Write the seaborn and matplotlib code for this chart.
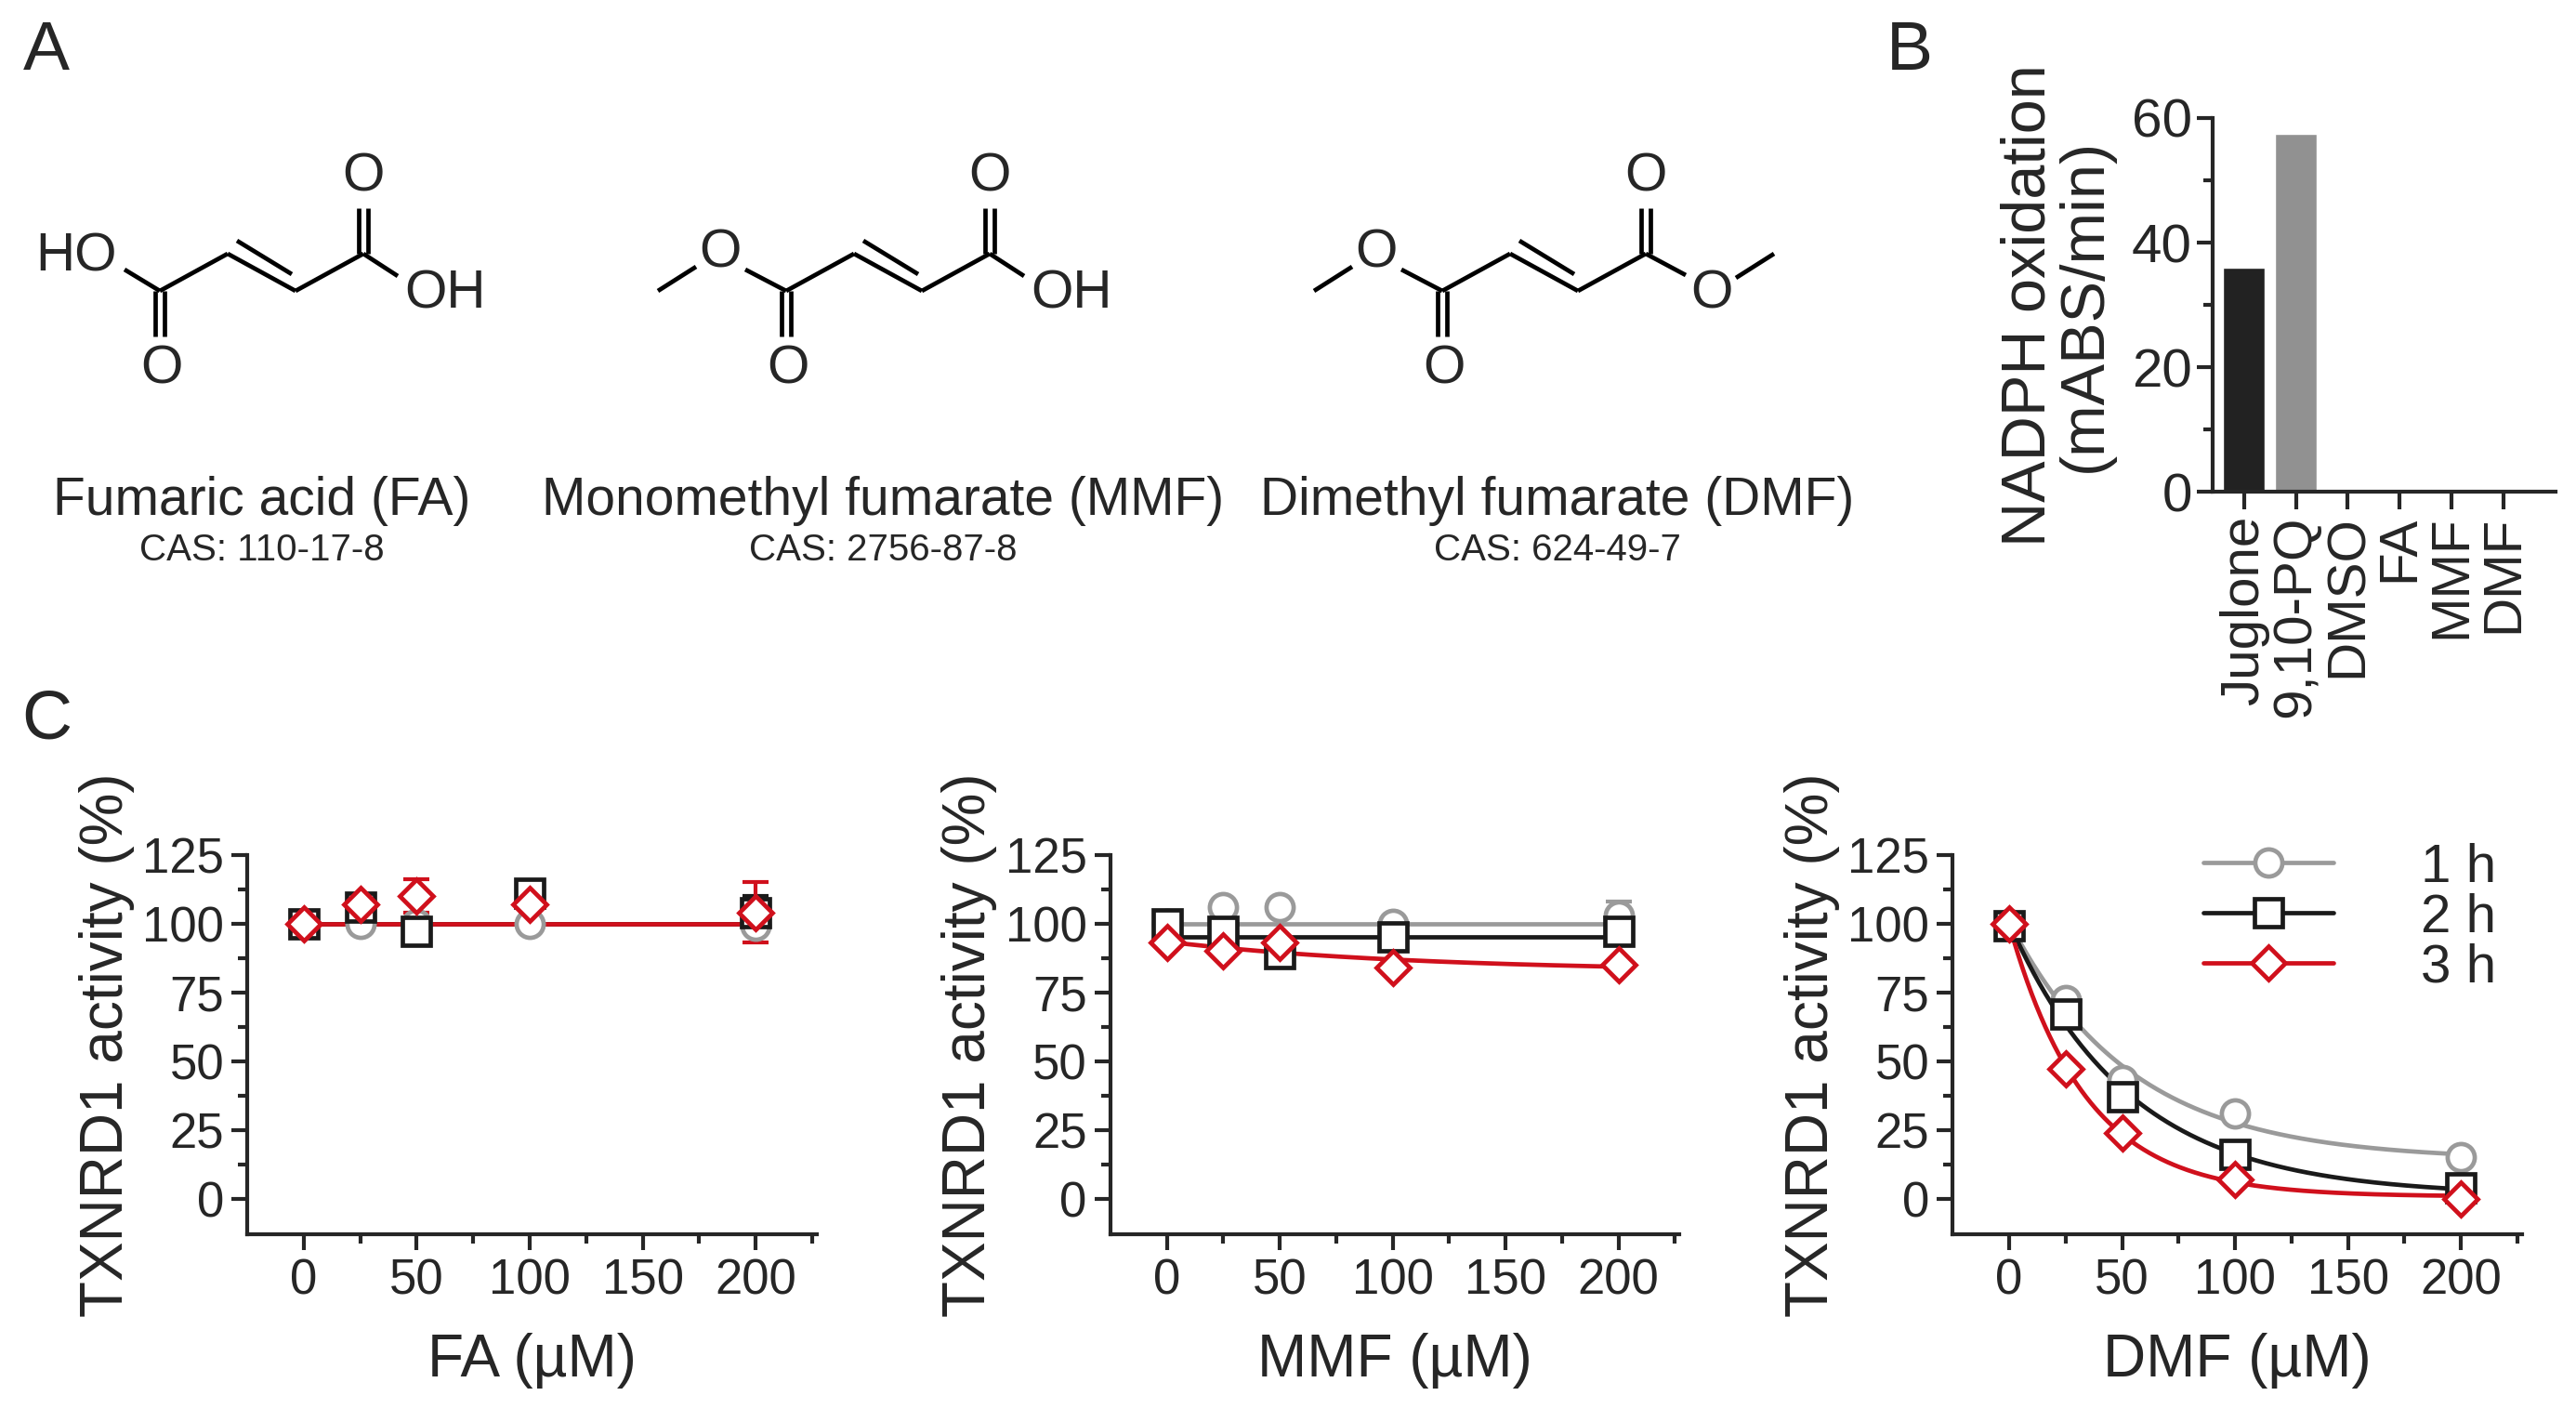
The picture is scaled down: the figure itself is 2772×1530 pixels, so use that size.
import numpy as np
import pandas as pd
import matplotlib
matplotlib.use("Agg")
import matplotlib.pyplot as plt
import seaborn as sns
from matplotlib.lines import Line2D

sns.set_theme(style="ticks")
plt.rcParams['font.family'] = ['Liberation Sans', 'DejaVu Sans']

# ---------------- data ----------------
conc = [0, 25, 50, 100, 200]
times = ["1 h", "2 h", "3 h"]

fa_1h = [100, 100, 100, 100, 99]
fa_2h = [100, 106, 97, 111, 104]
fa_3h = [100, 107, 110, 107, 104]
fa_3h_err = [1, 2, 6, 6, 11]
fa_2h_err = [1, 2, 4, 3, 6]

mmf_1h = [100, 106, 106, 100, 103]
mmf_1h_err = [1, 1, 1, 1, 5]
mmf_2h = [100, 97, 89, 95, 97]
mmf_3h = [93, 90, 93, 84, 85]
mmf_flat_levels = [100, 95]

dmf_1h = [100, 72, 43, 31, 15]
dmf_2h = [99, 67, 37, 16, 4]
dmf_3h = [100, 47, 24, 7, 0]

bar_labels = ["Juglone", "9,10-PQ", "DMSO", "FA", "MMF", "DMF"]
bar_values = [36, 57.5, 0.5, 0.5, 0.5, 0.2]

colors = {"1 h": "#9a9a9a", "2 h": "#1a1a1a", "3 h": "#d0101c"}
markers = {"1 h": "o", "2 h": "s", "3 h": "D"}

def decay_fit(x, y):
    x = np.asarray(x, float); y = np.asarray(y, float)
    best = None
    for k in np.linspace(0.001, 0.2, 2000):
        A = np.vstack([np.exp(-k * x), 1 - np.exp(-k * x)]).T
        coef, *_ = np.linalg.lstsq(A, y, rcond=None)
        r = np.sum((A @ coef - y) ** 2)
        if best is None or r < best[0]:
            best = (r, k, coef)
    _, k, (top, plat) = best
    xs = np.linspace(0, 200, 300)
    return xs, top * np.exp(-k * xs) + plat * (1 - np.exp(-k * xs))

W, H = 2772, 1530
fig = plt.figure(figsize=(W / 100, H / 100), dpi=100)

# ---------------- panel A: structures ----------------
ax0 = fig.add_axes([0, 0, 1, 1], zorder=-1)
ax0.set_xlim(0, W); ax0.set_ylim(H, 0); ax0.axis("off")
lw = 3.4
fs_atom = 42

def line(p, q):
    ax0.plot([p[0], q[0]], [p[1], q[1]], color="black", lw=lw, solid_capstyle="butt")

def atom(x, y, s):
    ax0.text(x, y, s, fontsize=fs_atom, ha="center", va="center")

def molecule(x0, left, right):
    c1 = (x0, 313); c2 = (x0 + 73, 273); c3 = (x0 + 146, 313); c4 = (x0 + 219, 273)
    line(c1, c2); line(c2, c3); line(c3, c4)
    line((c2[0] + 10, c2[1] - 14), (c3[0] - 4, c3[1] - 18))
    for dx in (-5, 5):
        line((c1[0] + dx, c1[1]), (c1[0] + dx, 362))
        line((c4[0] + dx, c4[1]), (c4[0] + dx, 224))
    atom(c1[0] + 2, 397, "O"); atom(c4[0], 190, "O")
    if left == "OH":
        line(c1, (x0 - 38, 290)); atom(x0 - 90, 276, "HO")
    else:
        line(c1, (x0 - 44, 290)); atom(x0 - 71, 272, "O")
        line((x0 - 97, 287), (x0 - 138, 313))
    if right == "OH":
        line(c4, (x0 + 256, 297)); atom(x0 + 307, 316, "OH")
    else:
        line(c4, (x0 + 262, 296)); atom(x0 + 290, 316, "O")
        line((x0 + 316, 299), (x0 + 357, 273))

molecule(172, "OH", "OH")
molecule(846, "Me", "OH")
molecule(1552, "Me", "Me")

names = [("Fumaric acid (FA)", "CAS: 110-17-8", 282),
         ("Monomethyl fumarate (MMF)", "CAS: 2756-87-8", 950),
         ("Dimethyl fumarate (DMF)", "CAS: 624-49-7", 1676)]
for n, cas, x in names:
    ax0.text(x, 539, n, fontsize=41, ha="center", va="center")
    ax0.text(x, 592, cas, fontsize=29, ha="center", va="center")

for lab, x, y in [("A", 50, 55), ("B", 2055, 55), ("C", 50, 775)]:
    ax0.text(x, y, lab, fontsize=54, ha="center", va="center")

# ---------------- panel B: bars ----------------
axb = fig.add_axes([0.859, 0.654, 0.133, 0.263])
dfb = pd.DataFrame({"cond": bar_labels, "val": bar_values})
sns.barplot(data=dfb, x="cond", y="val", ax=axb,
            palette=["#222222", "#919191", "#dddddd", "#dddddd", "#dddddd", "#dddddd"],
            width=0.8, saturation=1, hue="cond", legend=False)
axb.set_ylim(0, 60)
axb.set_xlim(-0.6, 6.0)
axb.set_yticks([0, 20, 40, 60])
axb.set_yticks([10, 30, 50], minor=True)
axb.tick_params(axis="y", labelsize=42, width=3, length=12, direction="out", pad=4)
axb.tick_params(axis="y", which="minor", width=3, length=7)
axb.tick_params(axis="x", labelsize=42, width=3, length=14, labelrotation=90, pad=4)
axb.set_xlabel("")
axb.set_ylabel("NADPH oxidation\n(mABS/min)", fontsize=48, labelpad=14, linespacing=0.95)
for s in ("top", "right"):
    axb.spines[s].set_visible(False)
for s in ("left", "bottom"):
    axb.spines[s].set_linewidth(3)

# ---------------- panel C ----------------
panels = [
    ("FA (µM)", [fa_1h, fa_2h, fa_3h], [None, fa_2h_err, fa_3h_err], [100, 100, 100], 0.096),
    ("MMF (µM)", [mmf_1h, mmf_2h, mmf_3h], [mmf_1h_err, None, None], mmf_flat_levels + [None], 0.431),
    ("DMF (µM)", [dmf_1h, dmf_2h, dmf_3h], [None, None, None], [None, None, None], 0.758),
]
for pi, (xlabel, series, errs, flats, left) in enumerate(panels):
    ax = fig.add_axes([left, 0.132, 0.221, 0.267])
    for t, y, e, f in zip(times, series, errs, flats):
        c = colors[t]
        if f is None:
            xs, ys = decay_fit(conc, y)
        else:
            xs = np.array([0, 200]); ys = np.array([f, f], float)
        sns.lineplot(x=xs, y=ys, ax=ax, color=c, lw=3.4, zorder=2, legend=False)
        if e is not None:
            ax.errorbar(conc, y, yerr=e, fmt="none", ecolor=c, elinewidth=3, capsize=10, capthick=3, zorder=3)
        ax.plot(conc, y, linestyle="none", marker=markers[t], ms=21 if t != "3 h" else 18,
                mfc="white", mec=c, mew=3.4, zorder=4)
    ax.set_xlim(-25, 227)
    ax.set_ylim(-13, 125)
    ax.set_xticks([0, 50, 100, 150, 200])
    ax.set_xticks([25, 75, 125, 175, 225], minor=True)
    ax.set_yticks([0, 25, 50, 75, 100, 125])
    ax.set_yticks(np.arange(12.5, 125, 25), minor=True)
    ax.tick_params(labelsize=38, width=3, length=12, direction="out", pad=6)
    ax.tick_params(which="minor", width=3, length=7)
    ax.set_xlabel(xlabel, fontsize=46, labelpad=22)
    ax.set_ylabel("TXNRD1 activity (%)", fontsize=46, labelpad=6)
    for s in ("top", "right"):
        ax.spines[s].set_visible(False)
    for s in ("left", "bottom"):
        ax.spines[s].set_linewidth(3)
    if pi == 2:
        handles = [Line2D([], [], color=colors[t], lw=3.4, marker=markers[t], ms=21 if t != "3 h" else 18,
                          mfc="white", mec=colors[t], mew=3.4) for t in times]
        ax.legend(handles, times, loc="upper right", bbox_to_anchor=(1.04, 1.16), frameon=False,
                  fontsize=42, handlelength=2.4, labelspacing=0.0, handletextpad=1.6)

fig.savefig("out.png", dpi=100)
